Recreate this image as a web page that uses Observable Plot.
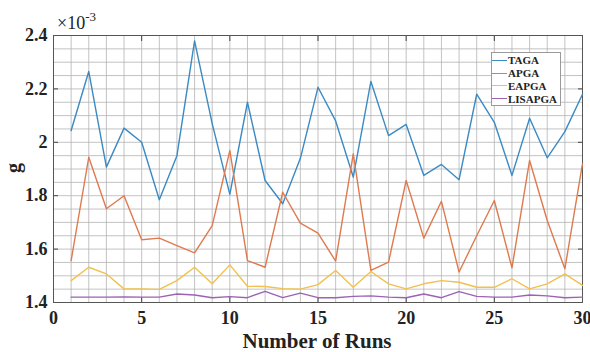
<!DOCTYPE html>
<html>
<head>
<meta charset="utf-8">
<script src="https://cdn.jsdelivr.net/npm/d3@7"></script>
<script src="https://cdn.jsdelivr.net/npm/@observablehq/plot@0.6"></script>
<style>
  html, body { margin: 0; padding: 0; background: #fff; }
  #wrap { position: relative; width: 590px; height: 352px; font-family: "Liberation Serif", "Times New Roman", serif; }
  #legend { position: absolute; left: 491px; top: 52px; width: 70px; height: 54px; border: 1px solid #9a9a9a; background: #fff; box-sizing: border-box; padding-top: 1px; }
  .row { display: flex; align-items: center; height: 12.8px; font-size: 11px; font-weight: bold; color: #222; }
  .sw { width: 15px; height: 0; border-top: 1.6px solid; margin-right: 1px; }
</style>
</head>
<body>
<div id="wrap"></div>
<script>
const runs = [1,2,3,4,5,6,7,8,9,10,11,12,13,14,15,16,17,18,19,20,21,22,23,24,25,26,27,28,29,30];
const seriesNames = ["TAGA", "APGA", "EAPGA", "LISAPGA"];
const TAGA = [2.044,2.265,1.907,2.053,2.0,1.785,1.95,2.38,2.07,1.805,2.15,1.857,1.77,1.94,2.206,2.08,1.87,2.228,2.025,2.067,1.876,1.917,1.86,2.18,2.075,1.876,2.09,1.942,2.04,2.18];
const APGA = [1.557,1.944,1.751,1.80,1.635,1.641,1.613,1.586,1.688,1.969,1.557,1.532,1.813,1.697,1.66,1.555,1.957,1.52,1.551,1.857,1.641,1.779,1.514,1.65,1.782,1.53,1.932,1.707,1.526,1.92];
const EAPGA = [1.482,1.532,1.507,1.451,1.451,1.449,1.482,1.532,1.47,1.541,1.461,1.46,1.452,1.45,1.467,1.52,1.457,1.516,1.47,1.451,1.47,1.482,1.476,1.457,1.457,1.489,1.451,1.47,1.507,1.464];
const LISAPGA = [1.42,1.42,1.42,1.421,1.42,1.42,1.432,1.428,1.418,1.422,1.418,1.442,1.418,1.435,1.418,1.418,1.423,1.425,1.42,1.418,1.432,1.418,1.441,1.423,1.42,1.42,1.428,1.425,1.418,1.42];
const colors = ["#3a8ac4", "#df7a4e", "#f1c04e", "#9b62b6"];
const xTicks = [0,5,10,15,20,25,30];
const yTicks = [1.4,1.6,1.8,2,2.2,2.4];
const yMinor = [1.4,1.45,1.5,1.55,1.6,1.65,1.7,1.75,1.8,1.85,1.9,1.95,2,2.05,2.1,2.15,2.2,2.25,2.3,2.35,2.4];
const xMinor = [0,1,2,3,4,5,6,7,8,9,10,11,12,13,14,15,16,17,18,19,20,21,22,23,24,25,26,27,28,29,30];
const exponentBase = "×10";
const exponentLabel = "-3";
const yLabel = "g";
const xLabel = "Number of Runs";

const allSeries = [TAGA, APGA, EAPGA, LISAPGA];
const data = [];
allSeries.forEach((vals, k) => runs.forEach((r, i) => data.push({run: r, value: vals[i], series: seriesNames[k]})));

const tickFont = {fontSize: 18, fontWeight: "bold"};

const chart = Plot.plot({
  width: 590,
  height: 352,
  marginLeft: 53,
  marginRight: 8,
  marginTop: 35,
  marginBottom: 50,
  style: {fontFamily: "Liberation Serif, Times New Roman, serif", color: "#222", background: "#fff"},
  x: {domain: [0, 30]},
  y: {domain: [1.4, 2.4]},
  color: {domain: seriesNames, range: colors},
  marks: [
    Plot.gridX(xMinor, {stroke: "#b4b4b4", strokeOpacity: 1, strokeWidth: 0.8}),
    Plot.gridY(yMinor, {stroke: "#b4b4b4", strokeOpacity: 1, strokeWidth: 0.8}),
    Plot.axisX(xTicks, {anchor: "bottom", tickSize: 0, tickPadding: 9, tickFormat: d => String(d), ...tickFont, label: null}),
    Plot.axisY(yTicks, {anchor: "left", tickSize: 0, tickPadding: 6, tickFormat: d => String(d), ...tickFont, label: null}),
    Plot.axisX(xTicks, {anchor: "bottom", tickSize: -5, text: null, label: null, stroke: "#444"}),
    Plot.axisX(xTicks, {anchor: "top", tickSize: -5, text: null, label: null, stroke: "#444"}),
    Plot.axisY(yTicks, {anchor: "left", tickSize: -5, text: null, label: null, stroke: "#444"}),
    Plot.axisY(yTicks, {anchor: "right", tickSize: -5, text: null, label: null, stroke: "#444"}),
    Plot.frame({stroke: "#555", strokeWidth: 1}),
    Plot.line(data, {x: "run", y: "value", z: "series", stroke: "series", strokeWidth: 1.4})
  ]
});

const wrap = document.getElementById("wrap");
wrap.appendChild(chart);

// axis titles and exponent
const svg = d3.select(chart);
svg.append("text").attr("x", 317).attr("y", 348).attr("text-anchor", "middle")
  .attr("font-size", 21).attr("font-weight", "bold").attr("fill", "#222").text(xLabel);
svg.append("text").attr("transform", "translate(20,168) rotate(-90)").attr("text-anchor", "middle")
  .attr("font-size", 20).attr("font-weight", "bold").attr("fill", "#222").text(yLabel);
const ex = svg.append("text").attr("x", 57).attr("y", 29).attr("text-anchor", "start").attr("font-size", 18).attr("fill", "#222");
ex.append("tspan").text(exponentBase);
ex.append("tspan").attr("dy", -8).attr("font-size", 13).text(exponentLabel);

// legend
const legend = document.createElement("div");
legend.id = "legend";
seriesNames.forEach((name, k) => {
  const row = document.createElement("div");
  row.className = "row";
  const sw = document.createElement("span");
  sw.className = "sw";
  sw.style.borderTopColor = colors[k];
  const t = document.createElement("span");
  t.textContent = name;
  row.appendChild(sw); row.appendChild(t);
  legend.appendChild(row);
});
wrap.appendChild(legend);
</script>
</body>
</html>
